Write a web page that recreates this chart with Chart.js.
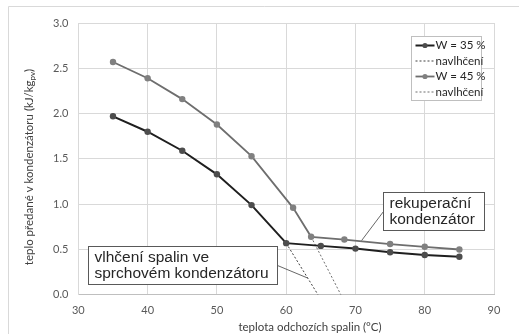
<!DOCTYPE html>
<html>
<head>
<meta charset="utf-8">
<script src="https://cdn.jsdelivr.net/npm/chart.js@4"></script>
<style>
  html, body { margin: 0; padding: 0; background: #fff; }
  #wrap { width: 519px; height: 334px; position: relative; }
</style>
</head>
<body>
<div id="wrap"><canvas class="js-chart"></canvas></div>
<script>
const context = document.querySelector('.js-chart').getContext('2d');

// W = 35 %
const temps35 = [35, 40, 45, 50, 55, 60, 65, 70, 75, 80, 85];
const heat35 = [1.97, 1.80, 1.59, 1.33, 0.99, 0.57, 0.54, 0.51, 0.47, 0.44, 0.42];
// W = 45 %
const temps45 = [35, 40, 45, 50, 55, 61, 63.6, 68.4, 75, 80, 85];
const heat45 = [2.57, 2.39, 2.16, 1.88, 1.53, 0.96, 0.64, 0.61, 0.56, 0.53, 0.50];
// navlhčení (dashed extensions down to zero)
const wetTemps35 = [60, 64.6];
const wetHeat35 = [0.57, 0];
const wetTemps45 = [63.6, 67.9];
const wetHeat45 = [0.64, 0];

const xTicks = [30, 40, 50, 60, 70, 80, 90];
const yTicks = [0, 0.5, 1.0, 1.5, 2.0, 2.5, 3.0];

const seriesLabels = ['W = 35 %', 'navlhčení', 'W = 45 %', 'navlhčení'];
const xTitle = 'teplota odchozích spalin (°C)';
const yTitle = 'teplo předané v kondenzátoru (kJ/kg';
const yTitleSub = 'pv';

// callout texts and the data point each one is anchored to
const noteRecup = ['rekuperační', 'kondenzátor'];
const noteRecupAt = { box: [74.0, 1.135], target: [70.9, 0.60] };
const noteShower = ['vlhčení spalin ve', 'sprchovém kondenzátoru'];
const noteShowerAt = { box: [31.45, 0.54], target: [63.1, 0.185] };

const FONT = "Lato, 'Liberation Sans', sans-serif";

function toPoints(xs, ys) {
  return xs.map((x, i) => ({ x, y: ys[i] }));
}

const framePlugin = {
  id: 'frame',
  beforeDraw(chart) {
    const ctx = chart.ctx;
    ctx.save();
    ctx.fillStyle = '#fff';
    ctx.fillRect(0, 0, chart.width, chart.height);
    ctx.strokeStyle = '#d9d9d9';
    ctx.lineWidth = 1;
    ctx.beginPath();
    ctx.moveTo(8.5, chart.height + 2);
    ctx.lineTo(8.5, 6.5);
    ctx.lineTo(chart.width + 2, 6.5);
    ctx.stroke();
    ctx.restore();
  },
};

function drawNote(chart, lines, at, boxW, boxH) {
  const ctx = chart.ctx;
  const xs = chart.scales.x;
  const ys = chart.scales.y;
  const left = Math.round(xs.getPixelForValue(at.box[0])) + 0.5;
  const top = Math.round(ys.getPixelForValue(at.box[1])) + 0.5;
  const tx = xs.getPixelForValue(at.target[0]);
  const ty = ys.getPixelForValue(at.target[1]);

  ctx.save();
  ctx.strokeStyle = '#404040';
  ctx.lineWidth = 0.8;
  ctx.beginPath();
  const fromX = tx > left + boxW ? left + boxW : left;
  ctx.moveTo(fromX, top + boxH / 2);
  ctx.lineTo(tx, ty);
  ctx.stroke();

  ctx.fillStyle = '#fff';
  ctx.fillRect(left, top, boxW, boxH);
  ctx.strokeStyle = '#595959';
  ctx.lineWidth = 1;
  ctx.strokeRect(left, top, boxW, boxH);

  ctx.fillStyle = '#262626';
  ctx.font = "15.5px 'Liberation Sans', Arial, sans-serif";
  ctx.textBaseline = 'middle';
  lines.forEach((line, i) => {
    ctx.fillText(line, left + 6, top + 11 + i * 16);
  });
  ctx.restore();
}

const notesPlugin = {
  id: 'notes',
  afterDatasetsDraw(chart) {
    drawNote(chart, noteRecup, noteRecupAt, 101, 38);
    drawNote(chart, noteShower, noteShowerAt, 189, 38);
  },
};

const legendPlugin = {
  id: 'boxLegend',
  afterDraw(chart) {
    const ctx = chart.ctx;
    const area = chart.chartArea;
    const left = Math.round(area.right - 83) + 0.5;
    const top = Math.round(area.top + 13) + 0.5;
    const w = 70;
    const h = 64;
    ctx.save();
    ctx.fillStyle = '#fff';
    ctx.fillRect(left, top, w, h);
    ctx.strokeStyle = '#bfbfbf';
    ctx.lineWidth = 1;
    ctx.strokeRect(left, top, w, h);

    ctx.font = '11.5px ' + FONT;
    ctx.textBaseline = 'middle';
    chart.data.datasets.forEach((ds, i) => {
      const y = top + 9 + i * 15.5;
      ctx.strokeStyle = ds.borderColor;
      ctx.lineWidth = ds.borderWidth;
      ctx.setLineDash(ds.borderDash || []);
      ctx.beginPath();
      ctx.moveTo(left + 4, y);
      ctx.lineTo(left + 23, y);
      ctx.stroke();
      ctx.setLineDash([]);
      if (ds.pointRadius > 0) {
        ctx.fillStyle = ds.pointBackgroundColor;
        ctx.beginPath();
        ctx.arc(left + 13.5, y, 2.6, 0, Math.PI * 2);
        ctx.fill();
      }
      ctx.fillStyle = '#262626';
      ctx.fillText(ds.label, left + 24, y);
    });
    ctx.restore();
  },
};

const titlesPlugin = {
  id: 'axisTitles',
  afterDraw(chart) {
    const ctx = chart.ctx;
    ctx.save();
    ctx.fillStyle = '#404040';
    ctx.textBaseline = 'middle';

    // x title
    ctx.font = '11.5px ' + FONT;
    ctx.textAlign = 'center';
    ctx.fillText(xTitle, 310, 327);

    // y title with subscript
    ctx.textAlign = 'left';
    ctx.translate(29, 167);
    ctx.rotate(-Math.PI / 2);
    const wMain = ctx.measureText(yTitle).width;
    const wEnd = ctx.measureText(')').width;
    ctx.font = '8px ' + FONT;
    const wSub = ctx.measureText(yTitleSub).width;
    let x = -(wMain + wSub + wEnd) / 2;
    ctx.font = '11.5px ' + FONT;
    ctx.fillText(yTitle, x, 0);
    x += wMain;
    ctx.font = '8px ' + FONT;
    ctx.fillText(yTitleSub, x, 3);
    x += wSub;
    ctx.font = '11.5px ' + FONT;
    ctx.fillText(')', x, 0);
    ctx.restore();
  },
};

new Chart(context, {
  type: 'line',
  data: {
    datasets: [
      {
        label: seriesLabels[0],
        data: toPoints(temps35, heat35),
        borderColor: '#1f1f1f',
        borderWidth: 2,
        pointRadius: 3.2,
        pointBackgroundColor: '#4d4d4d',
        pointBorderWidth: 0,
      },
      {
        label: seriesLabels[1],
        data: toPoints(wetTemps35, wetHeat35),
        borderColor: '#404040',
        borderWidth: 1,
        borderDash: [2, 2],
        pointRadius: 0,
      },
      {
        label: seriesLabels[2],
        data: toPoints(temps45, heat45),
        borderColor: '#6e6e6e',
        borderWidth: 1.8,
        pointRadius: 3.2,
        pointBackgroundColor: '#808080',
        pointBorderWidth: 0,
      },
      {
        label: seriesLabels[3],
        data: toPoints(wetTemps45, wetHeat45),
        borderColor: '#6e6e6e',
        borderWidth: 1,
        borderDash: [2, 2],
        pointRadius: 0,
      },
    ],
  },
  options: {
    responsive: true,
    maintainAspectRatio: false,
    animation: false,
    layout: { padding: { left: 43, right: 25, top: 23, bottom: 8 } },
    plugins: {
      legend: { display: false },
      tooltip: { enabled: false },
    },
    scales: {
      x: {
        type: 'linear',
        min: xTicks[0],
        max: xTicks[xTicks.length - 1],
        afterBuildTicks(scale) {
          scale.ticks = xTicks.map(value => ({ value }));
        },
        grid: { color: '#d9d9d9', drawTicks: false },
        border: { color: '#bfbfbf' },
        ticks: { color: '#595959', font: { family: FONT, size: 11 }, padding: 9 },
      },
      y: {
        min: yTicks[0],
        max: yTicks[yTicks.length - 1],
        afterBuildTicks(scale) {
          scale.ticks = yTicks.map(value => ({ value }));
        },
        grid: { color: '#d9d9d9', drawTicks: false },
        border: { color: '#d9d9d9' },
        ticks: {
          color: '#595959',
          font: { family: FONT, size: 11 },
          padding: 10,
          callback(value) {
            return value.toFixed(1);
          },
        },
      },
    },
  },
  plugins: [framePlugin, notesPlugin, legendPlugin, titlesPlugin],
});
</script>
</body>
</html>
